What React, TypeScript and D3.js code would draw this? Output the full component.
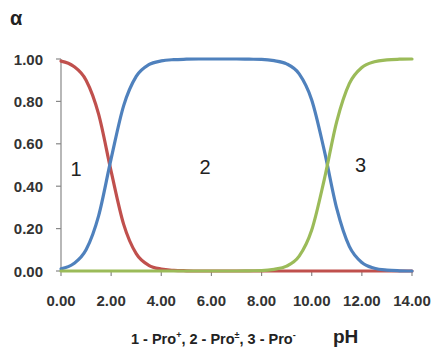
import React, { useEffect, useRef } from "react";
import * as d3 from "d3";

// pH grid and the fractions
const phValues = [0, 0.5, 1, 1.5, 2, 2.5, 3, 3.5, 4, 4.5, 5, 5.5, 6, 6.5, 7, 7.5, 8, 8.5, 9, 9.5, 10, 10.5, 11, 11.5, 12, 12.5, 13, 13.5, 14];
const proPlus = [0.99, 0.966, 0.9, 0.74, 0.47, 0.22, 0.082, 0.027, 0.009, 0.003, 0.001, 0, 0, 0, 0, 0, 0, 0, 0, 0, 0, 0, 0, 0, 0, 0, 0, 0, 0];
const proZwitter = [0.01, 0.034, 0.1, 0.26, 0.53, 0.78, 0.918, 0.973, 0.991, 0.997, 0.999, 1, 1, 1, 1, 0.999, 0.998, 0.992, 0.977, 0.93, 0.807, 0.569, 0.294, 0.116, 0.04, 0.013, 0.004, 0.001, 0];
const proMinus = [0, 0, 0, 0, 0, 0, 0, 0, 0, 0, 0, 0, 0, 0, 0, 0.001, 0.002, 0.008, 0.023, 0.07, 0.193, 0.431, 0.706, 0.884, 0.96, 0.987, 0.996, 0.999, 1];

const xTicks = [0, 2, 4, 6, 8, 10, 12, 14];
const yTicks = [0, 0.2, 0.4, 0.6, 0.8, 1.0];

const seriesColors = ["#c0504d", "#4f81bd", "#9bbb59"];
const curveLabels = [
  { text: "1", ph: 0.6, a: 0.48 },
  { text: "2", ph: 5.75, a: 0.49 },
  { text: "3", ph: 11.95, a: 0.5 },
];
const legendParts: [string, string][] = [["1 - Pro", "+"], [", 2 - Pro", "±"], [", 3 - Pro", "-"]];

function draw(el: SVGSVGElement) {
  const svg = d3.select(el);
  svg.selectAll("*").remove();

  const x = d3.scaleLinear().domain([0, 14]).range([61, 412]);
  const y = d3.scaleLinear().domain([0, 1]).range([271, 59]);
  const font = "'Liberation Sans', Arial, sans-serif";
  const axisColor = "#888888";

  // axis lines
  svg.append("line").attr("x1", x(0)).attr("x2", x(14)).attr("y1", y(0)).attr("y2", y(0))
    .attr("stroke", axisColor).attr("stroke-width", 1.2);
  svg.append("line").attr("x1", x(0)).attr("x2", x(0)).attr("y1", y(0)).attr("y2", y(1))
    .attr("stroke", axisColor).attr("stroke-width", 1.2);

  svg.selectAll(".xt").data(xTicks).enter().append("line")
    .attr("x1", (d) => x(d)).attr("x2", (d) => x(d))
    .attr("y1", y(0)).attr("y2", y(0) + 5)
    .attr("stroke", axisColor).attr("stroke-width", 1.2);
  svg.selectAll(".yt").data(yTicks).enter().append("line")
    .attr("x1", x(0) - 5).attr("x2", x(0))
    .attr("y1", (d) => y(d)).attr("y2", (d) => y(d))
    .attr("stroke", axisColor).attr("stroke-width", 1.2);

  svg.selectAll(".xl").data(xTicks).enter().append("text")
    .attr("x", (d) => x(d)).attr("y", 306)
    .attr("text-anchor", "middle")
    .attr("font-family", font).attr("font-weight", "bold").attr("font-size", 15)
    .attr("fill", "#333")
    .text((d) => d.toFixed(2));
  svg.selectAll(".yl").data(yTicks).enter().append("text")
    .attr("x", 43).attr("y", (d) => y(d) + 5.5)
    .attr("text-anchor", "end")
    .attr("font-family", font).attr("font-weight", "bold").attr("font-size", 15)
    .attr("fill", "#333")
    .text((d) => d.toFixed(2));

  // curves
  const line = d3.line<number>()
    .x((d, i) => x(phValues[i]))
    .y((d) => y(d))
    .curve(d3.curveMonotoneX);

  [proPlus, proZwitter, proMinus].forEach((vals, i) => {
    svg.append("path")
      .attr("d", line(vals))
      .attr("fill", "none")
      .attr("stroke", seriesColors[i])
      .attr("stroke-width", 3.2)
      .attr("stroke-linecap", "round");
  });

  svg.selectAll(".cl").data(curveLabels).enter().append("text")
    .attr("x", (d) => x(d.ph)).attr("y", (d) => y(d.a) + 7)
    .attr("text-anchor", "middle")
    .attr("font-family", font).attr("font-size", 20)
    .attr("fill", "#222")
    .text((d) => d.text);

  // axis titles
  svg.append("text").attr("x", 10).attr("y", 25)
    .attr("font-family", font).attr("font-weight", "bold").attr("font-size", 20)
    .attr("fill", "#222").text("α");
  svg.append("text").attr("x", 333).attr("y", 343)
    .attr("font-family", font).attr("font-weight", "bold").attr("font-size", 19)
    .attr("fill", "#222").text("pH");

  const legend = svg.append("text").attr("x", 131).attr("y", 344)
    .attr("font-family", font).attr("font-weight", "bold").attr("font-size", 14.5)
    .attr("fill", "#222");
  legendParts.forEach(([base, sup], i) => {
    legend.append("tspan").attr("dy", i === 0 ? 0 : 6).text(base);
    legend.append("tspan").attr("dy", -6).attr("font-size", 9).text(sup);
  });
}

export default function App() {
  const ref = useRef<SVGSVGElement>(null);
  useEffect(() => {
    if (ref.current) draw(ref.current);
  }, []);
  return (
    <svg ref={ref} width={433} height={350}
      style={{ position: "absolute", left: 0, top: 0, background: "#fff" }} />
  );
}
